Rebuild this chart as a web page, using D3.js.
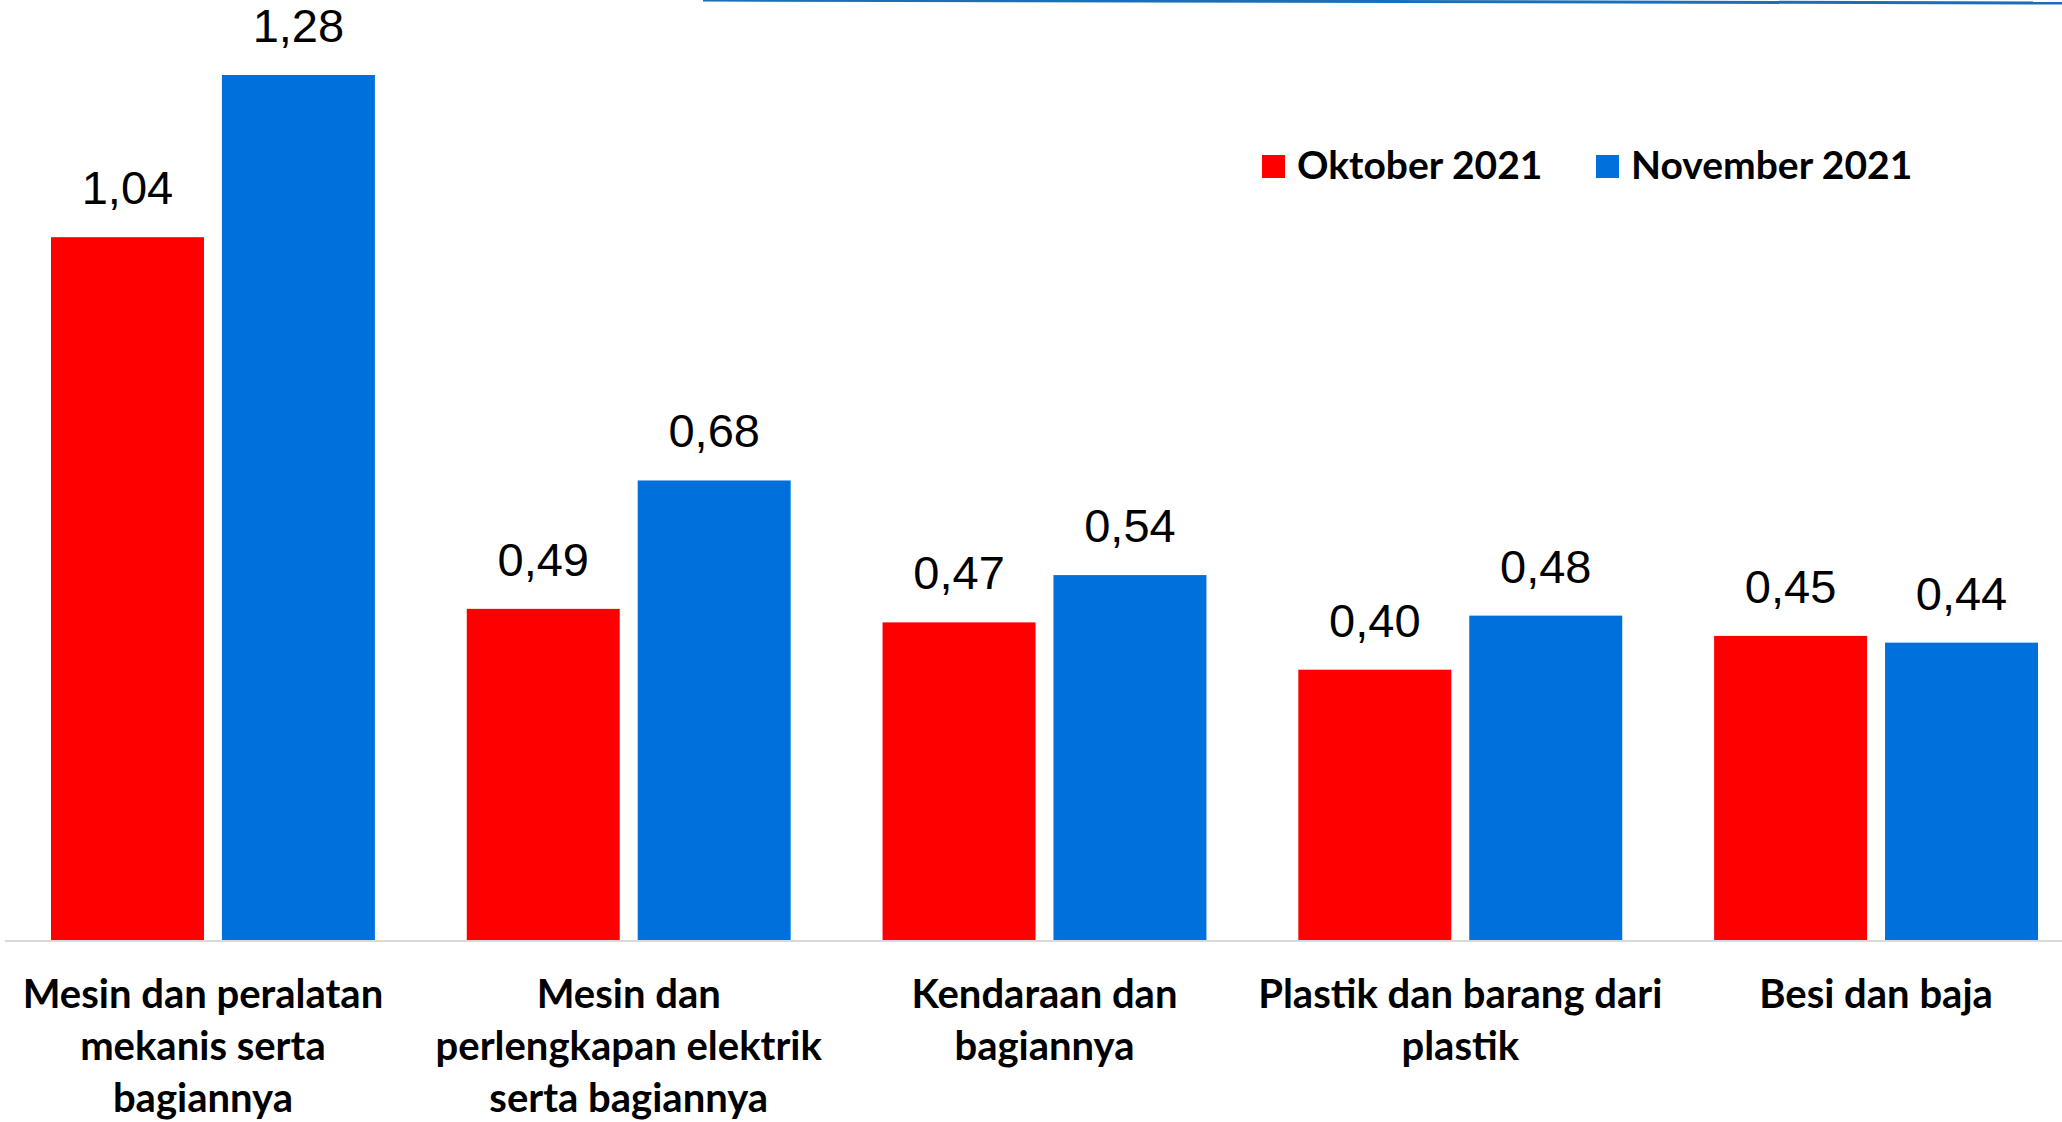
<!DOCTYPE html>
<html>
<head>
<meta charset="utf-8">
<script src="https://cdn.jsdelivr.net/npm/d3@7"></script>
<style>
  html, body { margin: 0; padding: 0; background: #fff; overflow: hidden; }
  svg { display: block; }
</style>
</head>
<body>
<svg id="chart" width="2062" height="1122"></svg>
<script>
// Category labels, split into the lines they are drawn on
const categories = [
  "Mesin dan peralatan mekanis serta bagiannya",
  "Mesin dan perlengkapan elektrik serta bagiannya",
  "Kendaraan dan bagiannya",
  "Plastik dan barang dari plastik",
  "Besi dan baja"
];
const categoryLines = [
  ["Mesin dan peralatan", "mekanis serta", "bagiannya"],
  ["Mesin dan", "perlengkapan elektrik", "serta bagiannya"],
  ["Kendaraan dan", "bagiannya"],
  ["Plastik dan barang dari", "plastik"],
  ["Besi dan baja"]
];
const seriesNames = ["Oktober 2021", "November 2021"];
const oktober = [1.04, 0.49, 0.47, 0.40, 0.45];
const november = [1.28, 0.68, 0.54, 0.48, 0.44];
const seriesColors = ["#ff0000", "#0070dd"];

const svg = d3.select("#chart");
const W = 2062, H = 1122;
const baseY = 940;

const x0 = d3.scaleBand()
  .domain(categories)
  .range([51, 2038])
  .paddingInner(0.221)
  .paddingOuter(0);

const x1 = d3.scaleBand()
  .domain(seriesNames)
  .range([0, x0.bandwidth()])
  .paddingInner(0.105)
  .paddingOuter(0);

const y = d3.scaleLinear()
  .domain([0, 1.28])
  .range([baseY, 75]);

const fmt = v => d3.format(".2f")(v).replace(".", ",");

const rows = categories.map((c, i) => ({
  cat: c,
  values: [
    { s: seriesNames[0], v: oktober[i], color: seriesColors[0] },
    { s: seriesNames[1], v: november[i], color: seriesColors[1] }
  ]
}));

// Decorative rule along the top edge
svg.append("path")
  .attr("d", `M703,0 L${W},3`)
  .attr("stroke", "#1b6fb8")
  .attr("stroke-width", 3)
  .attr("fill", "none");

const groups = svg.append("g").selectAll("g")
  .data(rows)
  .join("g")
  .attr("transform", d => `translate(${x0(d.cat)},0)`);

groups.selectAll("rect")
  .data(d => d.values)
  .join("rect")
  .attr("x", d => x1(d.s))
  .attr("width", x1.bandwidth())
  .attr("y", d => y(d.v))
  .attr("height", d => baseY - y(d.v))
  .attr("fill", d => d.color);

groups.selectAll("text.val")
  .data(d => d.values)
  .join("text")
  .attr("class", "val")
  .attr("x", d => x1(d.s) + x1.bandwidth() / 2)
  .attr("y", d => y(d.v) - 33)
  .attr("text-anchor", "middle")
  .style("font-family", "'Liberation Sans', Arial, sans-serif")
  .style("font-size", "47px")
  .style("fill", "#000")
  .text(d => fmt(d.v));

// Baseline
svg.append("line")
  .attr("x1", 5).attr("x2", W)
  .attr("y1", baseY + 1).attr("y2", baseY + 1)
  .attr("stroke", "#d9d9d9")
  .attr("stroke-width", 2);

// Category labels
const labelFont = "Lato, 'Open Sans', sans-serif";
categories.forEach((c, i) => {
  const cx = x0(c) + x0.bandwidth() / 2 - (i === 0 ? 10 : 0);
  const t = svg.append("text")
    .attr("x", cx)
    .attr("text-anchor", "middle")
    .style("font-family", labelFont)
    .style("font-weight", "700")
    .style("font-size", "40px")
    .style("fill", "#000");
  categoryLines[i].forEach((line, j) => {
    t.append("tspan")
      .attr("x", cx)
      .attr("y", 1008 + j * 52)
      .text(line);
  });
});

// Legend
const legendX = [1262, 1596];
seriesNames.forEach((s, i) => {
  const g = svg.append("g").attr("transform", `translate(${legendX[i]},0)`);
  g.append("rect")
    .attr("x", 0).attr("y", 155)
    .attr("width", 23).attr("height", 23)
    .attr("fill", seriesColors[i]);
  g.append("text")
    .attr("x", 35).attr("y", 179)
    .style("font-family", labelFont)
    .style("font-weight", "700")
    .style("font-size", "39px")
    .style("fill", "#000")
    .text(s);
});
</script>
</body>
</html>
